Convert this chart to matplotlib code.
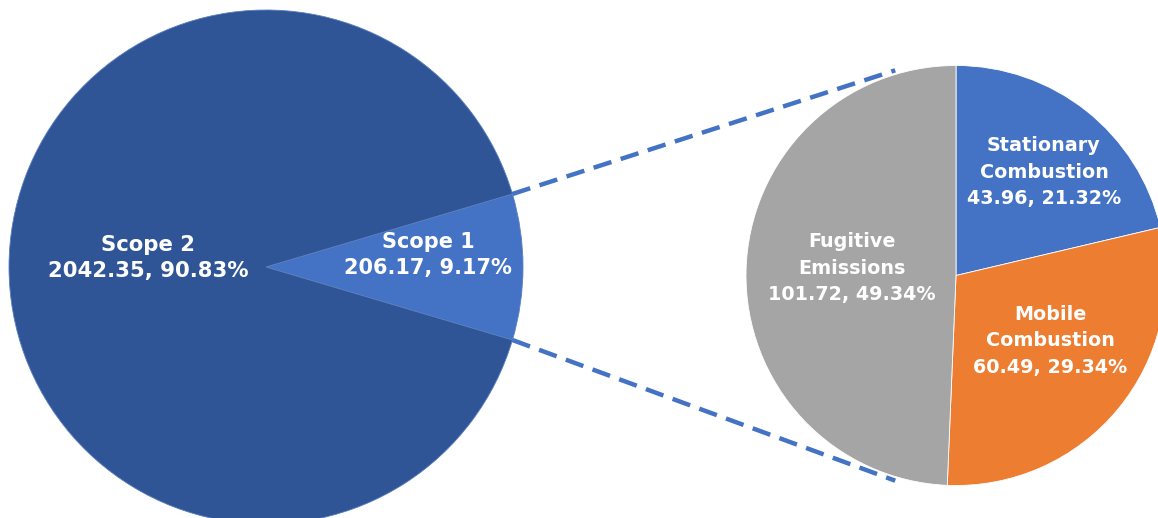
import matplotlib
matplotlib.use("Agg")
import matplotlib.pyplot as plt
import numpy as np

# Data
main_labels = ["Scope 1", "Scope 2"]
main_values = [206.17, 2042.35]
main_pcts = ["9.17%", "90.83%"]
sub_labels = ["Stationary\nCombustion", "Mobile\nCombustion", "Fugitive\nEmissions"]
sub_values = [43.96, 60.49, 101.72]
sub_pcts = ["21.32%", "29.34%", "49.34%"]

main_colors = ["#4472C4", "#2F5597"]
sub_colors = ["#4472C4", "#ED7D31", "#A5A5A5"]

W, H = 1158, 518
fig = plt.figure(figsize=(W / 100, H / 100), dpi=100)
ax = fig.add_axes([0, 0, 1, 1])

font = dict(family=["DejaVu Sans"], fontweight="bold", color="white")

# Main pie
c1 = (266, 251)
r1 = 257
half = main_values[0] / sum(main_values) * 360 / 2
ax.pie(main_values, colors=main_colors, startangle=-half, counterclock=True,
       center=c1, radius=r1, frame=True,
       wedgeprops=dict(linewidth=0.6, edgecolor="#5a7fc0"))

# Sub pie
c2 = (956, 242.5)
r2 = 210
ax.pie(sub_values, colors=sub_colors, startangle=90, counterclock=False,
       center=c2, radius=r2, frame=True,
       wedgeprops=dict(linewidth=0.6, edgecolor="white"))
ax.set_xlim(0, W)
ax.set_ylim(0, H)
ax.set_aspect("equal")
ax.axis("off")

# Connector lines
for sgn in (1, -1):
    a = np.deg2rad(sgn * half)
    p0 = (c1[0] + r1 * np.cos(a), c1[1] + r1 * np.sin(a))
    b = np.deg2rad(sgn * 106.5)
    p1 = (c2[0] + (r2 + 4) * np.cos(b), c2[1] + (r2 + 4) * np.sin(b))
    ax.plot([p0[0], p1[0]], [p0[1], p1[1]], color="#4472C4", lw=3.2,
            linestyle=(0, (4.2, 2.2)), dash_capstyle="butt")

# Labels
ax.text(148, H - 258, f"{main_labels[1]}\n{main_values[1]:.2f}, {main_pcts[1]}",
        ha="center", va="center", fontsize=15.3, linespacing=1.42, **font)
ax.text(428, H - 255, f"{main_labels[0]}\n{main_values[0]:.2f}, {main_pcts[0]}",
        ha="center", va="center", fontsize=15.0, linespacing=1.42, **font)

sub_pos = [(1044, H - 172), (1050, H - 341), (852, H - 268)]
for (x, y), lab, v, p in zip(sub_pos, sub_labels, sub_values, sub_pcts):
    ax.text(x, y, f"{lab}\n{v:.2f}, {p}", ha="center", va="center",
            fontsize=13.8, linespacing=1.48, **font)

fig.savefig("out.png", dpi=100)
